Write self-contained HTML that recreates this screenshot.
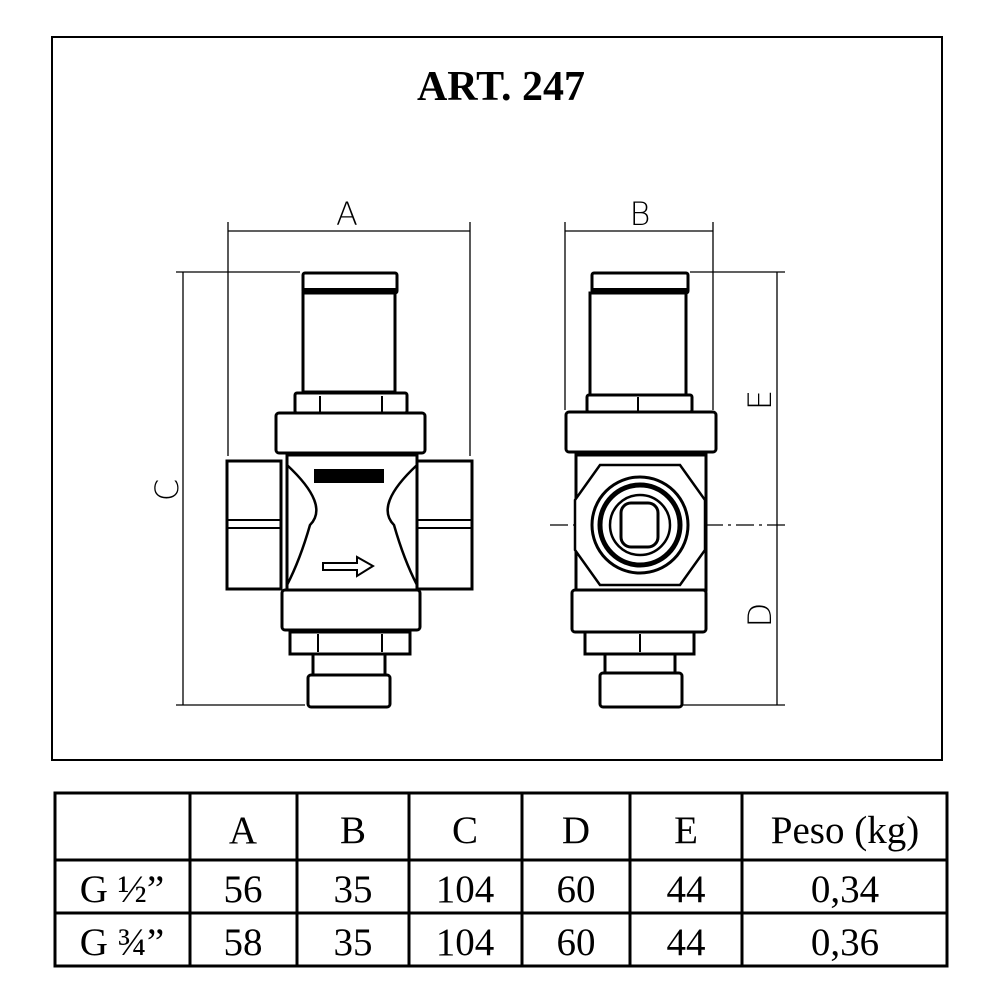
<!DOCTYPE html>
<html><head><style>body{margin:0;background:#fff}svg{display:block}</style></head><body>
<svg width="1000" height="1000" viewBox="0 0 1000 1000" xmlns="http://www.w3.org/2000/svg">
<rect x="52" y="37" width="890" height="723" fill="none" stroke="#000" stroke-width="2"/>
<text x="501" y="100" font-family="Liberation Serif" font-weight="bold" font-size="42" text-anchor="middle">ART. 247</text>
<g font-family="DejaVu Sans" font-size="32" fill="#000" font-weight="200">
<text x="347" y="225" text-anchor="middle">A</text>
<text x="640" y="225" text-anchor="middle">B</text>
<text transform="translate(178,490) rotate(-90)" text-anchor="middle">C</text>
<text transform="translate(771,400) rotate(-90)" text-anchor="middle">E</text>
<text transform="translate(771,615) rotate(-90)" text-anchor="middle">D</text>
</g>
<g stroke="#000" stroke-width="1.3" fill="none">
<line x1="228" y1="222" x2="228" y2="456"/><line x1="470" y1="222" x2="470" y2="456"/>
<line x1="228" y1="231" x2="470" y2="231"/>
<line x1="176" y1="272" x2="300" y2="272"/><line x1="176" y1="705" x2="305" y2="705"/>
<line x1="183" y1="272" x2="183" y2="705"/>
<line x1="565" y1="222" x2="565" y2="410"/><line x1="713" y1="222" x2="713" y2="410"/>
<line x1="565" y1="231" x2="713" y2="231"/>
<line x1="690" y1="272" x2="785" y2="272"/><line x1="682" y1="705" x2="785" y2="705"/>
<line x1="777" y1="272" x2="777" y2="705"/>
<line x1="550" y1="525" x2="790" y2="525" stroke-dasharray="18,5,3,5"/>
</g>
<g stroke="#000" stroke-width="3" fill="#fff">
<rect x="303" y="273" width="94" height="20" rx="2"/>
<line x1="303" y1="290" x2="397" y2="290" stroke-width="4"/>
<rect x="303" y="293" width="92" height="99"/>
<rect x="295" y="393" width="112" height="20" rx="2"/>
<line x1="320" y1="396" x2="320" y2="412" stroke-width="2"/><line x1="382" y1="396" x2="382" y2="412" stroke-width="2"/>
<rect x="276" y="413" width="149" height="40" rx="3"/>
<rect x="287" y="455" width="130" height="135"/>
<rect x="227" y="461" width="54" height="128"/>
<rect x="417" y="461" width="55" height="128"/>
<line x1="227" y1="520" x2="281" y2="520" stroke-width="2"/><line x1="227" y1="528" x2="281" y2="528" stroke-width="2"/>
<line x1="417" y1="520" x2="472" y2="520" stroke-width="2"/><line x1="417" y1="528" x2="472" y2="528" stroke-width="2"/>
<path d="M287 465 Q330 505 310 525 Q300 560 287 585" fill="none" stroke-width="2.5"/>
<path d="M417 465 Q374 505 394 525 Q404 560 417 585" fill="none" stroke-width="2.5"/>
<rect x="282" y="590" width="138" height="40" rx="3"/>
<rect x="290" y="632" width="120" height="22"/>
<line x1="318" y1="634" x2="318" y2="652" stroke-width="2"/><line x1="382" y1="634" x2="382" y2="652" stroke-width="2"/>
<rect x="313" y="654" width="72" height="21"/>
<rect x="308" y="675" width="82" height="32" rx="3"/>
<path d="M323 563 H357 V557 L373 566 L357 576 V570 H323 Z" stroke-width="2"/>
<rect x="314" y="469" width="70" height="14" fill="#000" stroke="none"/>
<rect x="592" y="273" width="96" height="20" rx="2"/>
<line x1="592" y1="290" x2="688" y2="290" stroke-width="4"/>
<rect x="590" y="293" width="96" height="102"/>
<rect x="587" y="395" width="105" height="17" rx="2"/>
<line x1="638" y1="397" x2="638" y2="411" stroke-width="2"/>
<rect x="566" y="412" width="150" height="40" rx="3"/>
<rect x="576" y="455" width="130" height="135"/>
<polygon points="600,465 680,465 705,500 705,550 680,585 600,585 575,550 575,500" stroke-width="2.5"/>
<circle cx="640" cy="525" r="48"/>
<circle cx="640" cy="525" r="40" stroke-width="5"/>
<circle cx="640" cy="525" r="30" stroke-width="2.5"/>
<rect x="621" y="503" width="37" height="44" rx="10" stroke-width="3"/>
<rect x="572" y="590" width="134" height="42" rx="3"/>
<rect x="585" y="632" width="109" height="22"/>
<line x1="640" y1="634" x2="640" y2="652" stroke-width="2"/>
<rect x="605" y="654" width="70" height="19"/>
<rect x="600" y="673" width="82" height="34" rx="3"/>
</g>
<g stroke="#000" stroke-width="3" fill="none">
<rect x="55" y="793" width="892" height="173"/>
<line x1="55" y1="860" x2="947" y2="860"/><line x1="55" y1="913" x2="947" y2="913"/>
<line x1="190" y1="793" x2="190" y2="966"/><line x1="297" y1="793" x2="297" y2="966"/>
<line x1="409" y1="793" x2="409" y2="966"/><line x1="522" y1="793" x2="522" y2="966"/>
<line x1="630" y1="793" x2="630" y2="966"/><line x1="742" y1="793" x2="742" y2="966"/>
</g>
<g font-family="Liberation Serif" font-size="39" text-anchor="middle" fill="#000">
<text x="243" y="843">A</text><text x="353" y="843">B</text><text x="465" y="843">C</text><text x="576" y="843">D</text><text x="686" y="843">E</text><text x="845" y="843">Peso (kg)</text>
<text x="122" y="902">G ½”</text><text x="243" y="902">56</text><text x="353" y="902">35</text><text x="465" y="902">104</text><text x="576" y="902">60</text><text x="686" y="902">44</text><text x="845" y="902">0,34</text>
<text x="122" y="955">G ¾”</text><text x="243" y="955">58</text><text x="353" y="955">35</text><text x="465" y="955">104</text><text x="576" y="955">60</text><text x="686" y="955">44</text><text x="845" y="955">0,36</text>
</g>
</svg>
</body></html>
